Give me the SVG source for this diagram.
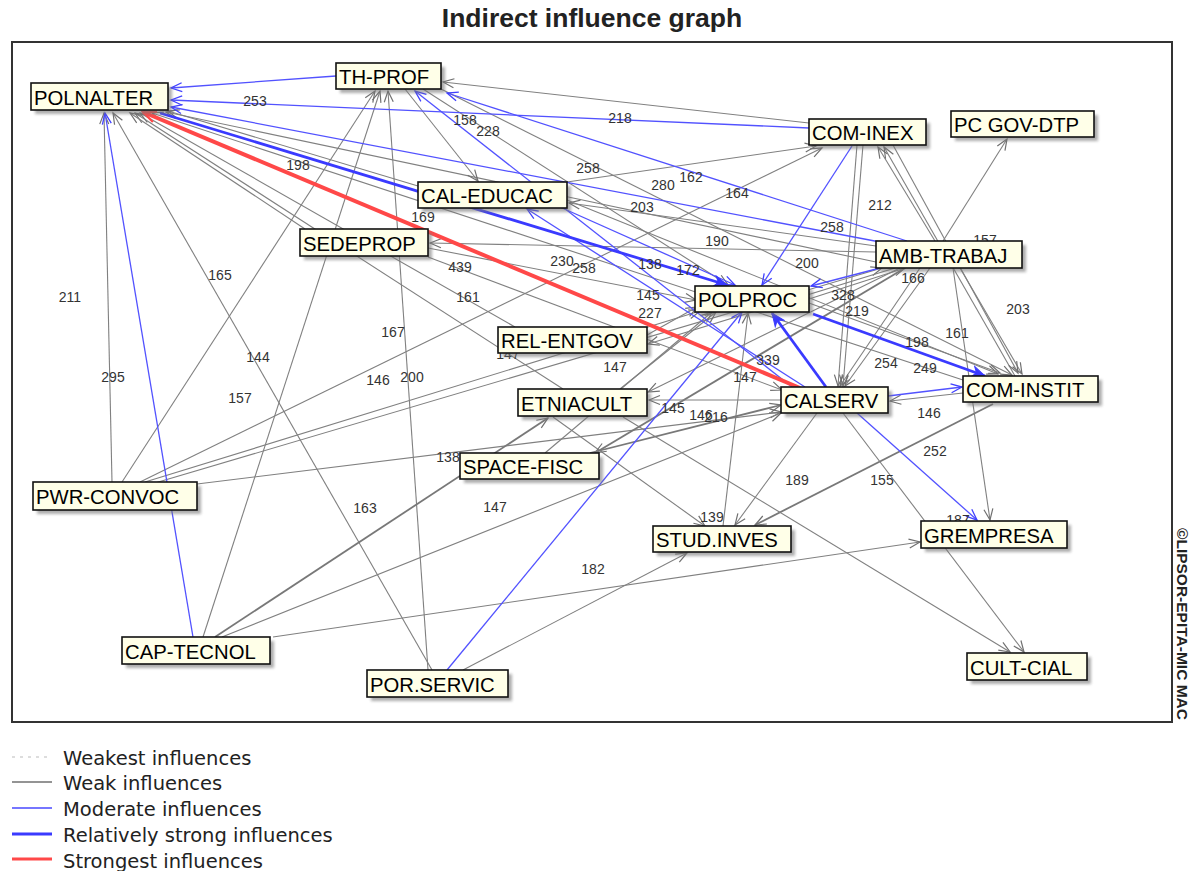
<svg xmlns="http://www.w3.org/2000/svg" width="1194" height="871" viewBox="0 0 1194 871">
<style>
.g{stroke:#808080;stroke-width:1.1;fill:none;marker-end:url(#ag)}
.gd{stroke:#787878;stroke-width:1.8;fill:none;marker-end:url(#ag)}
.b{stroke:#5252ff;stroke-width:1.3;fill:none;marker-end:url(#ab)}
.B{stroke:#3a3aff;stroke-width:2.8;fill:none;marker-end:url(#aB)}
.R{stroke:#ff4848;stroke-width:4;fill:none;marker-end:url(#ar)}
.lbl{font-family:"Liberation Sans",Arial,sans-serif;font-size:14px;fill:#333;text-anchor:middle}
.box{fill:#ffffe8;stroke:#111;stroke-width:1.6}
.sh{fill:#777;opacity:.6;filter:url(#blur)}
.nt{font-family:"Liberation Sans",Arial,sans-serif;font-size:20.3px;fill:#000}
.leg{font-family:"DejaVu Sans",Verdana,sans-serif;font-size:19.5px;fill:#222}
</style>
<defs>
<filter id="blur" x="-10%" y="-30%" width="120%" height="160%"><feGaussianBlur stdDeviation="1.5"/></filter>
<marker id="ag" markerUnits="userSpaceOnUse" markerWidth="14" markerHeight="12" refX="12" refY="6" orient="auto"><path d="M1,1.5 L12,6 L1,10.5" fill="none" stroke="#707070" stroke-width="1.2"/></marker>
<marker id="ab" markerUnits="userSpaceOnUse" markerWidth="14" markerHeight="12" refX="12" refY="6" orient="auto"><path d="M1,1.5 L12,6 L1,10.5" fill="none" stroke="#4040ff" stroke-width="1.3"/></marker>
<marker id="aB" markerUnits="userSpaceOnUse" markerWidth="16" markerHeight="14" refX="14" refY="7" orient="auto"><path d="M1,1.5 L14,7 L1,12.5 L5,7 z" fill="#3a3aff" stroke="#3a3aff" stroke-width="1"/></marker>
<marker id="ar" markerUnits="userSpaceOnUse" markerWidth="16" markerHeight="14" refX="14" refY="7" orient="auto"><path d="M1,1.5 L14,7 L1,12.5" fill="none" stroke="#ff4848" stroke-width="2.2"/></marker>
</defs>
<rect width="1194" height="871" fill="#fff"/>
<text x="592" y="27" text-anchor="middle" font-family="Liberation Sans,Arial,sans-serif" font-size="26.5" font-weight="bold" fill="#222">Indirect influence graph</text>
<rect x="12" y="42" width="1160" height="680" fill="#fff" stroke="#333" stroke-width="2"/>
<text transform="translate(1177,528) rotate(90)" font-family="Liberation Sans,Arial,sans-serif" font-size="15.5" font-weight="bold" fill="#222">©LIPSOR-EPITA-MIC MAC</text>

<g id="connectors">
<line class="g" x1="418" y1="186" x2="168" y2="111"/>
<line class="g" x1="876" y1="262" x2="166" y2="112"/>
<line class="g" x1="963" y1="380" x2="152" y2="113"/>
<line class="g" x1="515" y1="327" x2="140" y2="113"/>
<line class="g" x1="563" y1="389" x2="135" y2="113"/>
<line class="g" x1="305" y1="229" x2="130" y2="113"/>
<line class="g" x1="112" y1="482" x2="104" y2="113"/>
<line class="g" x1="432" y1="670" x2="113" y2="113"/>
<line class="g" x1="809" y1="123" x2="443" y2="82"/>
<line class="g" x1="122" y1="482" x2="375" y2="91"/>
<line class="g" x1="203" y1="637" x2="380" y2="91"/>
<line class="g" x1="428" y1="670" x2="388" y2="91"/>
<line class="g" x1="405" y1="89" x2="478" y2="181"/>
<line class="g" x1="423" y1="89" x2="728" y2="285"/>
<line class="g" x1="441" y1="89" x2="1012" y2="375"/>
<line class="g" x1="567" y1="182" x2="816" y2="146"/>
<line class="g" x1="876" y1="246" x2="569" y2="203"/>
<line class="g" x1="567" y1="200" x2="998" y2="374"/>
<line class="g" x1="876" y1="252" x2="430" y2="243"/>
<line class="g" x1="428" y1="257" x2="782" y2="390"/>
<line class="g" x1="428" y1="248" x2="696" y2="300"/>
<line class="g" x1="140" y1="482" x2="822" y2="148"/>
<line class="g" x1="145" y1="482" x2="700" y2="311"/>
<line class="g" x1="155" y1="483" x2="882" y2="268"/>
<line class="g" x1="197" y1="484" x2="781" y2="412"/>
<line class="gd" x1="215" y1="637" x2="548" y2="418"/>
<line class="g" x1="222" y1="637" x2="781" y2="413"/>
<line class="g" x1="273" y1="637" x2="920" y2="542"/>
<line class="g" x1="463" y1="670" x2="687" y2="553"/>
<line class="g" x1="723" y1="526" x2="748" y2="313"/>
<line class="g" x1="817" y1="413" x2="735" y2="525"/>
<line class="gd" x1="993" y1="404" x2="755" y2="525"/>
<line class="g" x1="553" y1="417" x2="705" y2="526"/>
<line class="g" x1="623" y1="417" x2="1010" y2="652"/>
<line class="g" x1="843" y1="413" x2="1024" y2="652"/>
<line class="g" x1="953" y1="268" x2="990" y2="520"/>
<line class="g" x1="963" y1="393" x2="890" y2="401"/>
<line class="g" x1="920" y1="268" x2="840" y2="386"/>
<line class="g" x1="930" y1="268" x2="845" y2="386"/>
<line class="g" x1="857" y1="145" x2="838" y2="386"/>
<line class="g" x1="863" y1="145" x2="843" y2="386"/>
<line class="g" x1="935" y1="241" x2="878" y2="147"/>
<line class="g" x1="1015" y1="376" x2="884" y2="147"/>
<line class="g" x1="960" y1="268" x2="1022" y2="374"/>
<line class="g" x1="893" y1="145" x2="1018" y2="373"/>
<line class="g" x1="943" y1="241" x2="1007" y2="139"/>
<line class="g" x1="809" y1="299" x2="905" y2="268"/>
<line class="g" x1="809" y1="303" x2="1000" y2="373"/>
<line class="g" x1="647" y1="335" x2="697" y2="307"/>
<line class="g" x1="545" y1="453" x2="712" y2="312"/>
<line class="g" x1="620" y1="389" x2="716" y2="312"/>
<line class="g" x1="895" y1="268" x2="648" y2="344"/>
<line class="g" x1="900" y1="268" x2="648" y2="392"/>
<line class="gd" x1="905" y1="268" x2="595" y2="453"/>
<line class="g" x1="781" y1="400" x2="649" y2="400"/>
<line class="gd" x1="590" y1="453" x2="781" y2="405"/>
<line class="b" x1="336" y1="76" x2="171" y2="88"/>
<line class="b" x1="809" y1="128" x2="171" y2="100"/>
<line class="b" x1="880" y1="242" x2="171" y2="107"/>
<line class="b" x1="193" y1="637" x2="105" y2="113"/>
<line class="b" x1="907" y1="241" x2="447" y2="93"/>
<line class="b" x1="792" y1="387" x2="415" y2="91"/>
<line class="b" x1="805" y1="387" x2="527" y2="209"/>
<line class="b" x1="560" y1="207" x2="735" y2="285"/>
<line class="b" x1="447" y1="670" x2="742" y2="312"/>
<line class="b" x1="857" y1="413" x2="977" y2="520"/>
<line class="b" x1="888" y1="396" x2="962" y2="387"/>
<line class="b" x1="852" y1="146" x2="762" y2="285"/>
<line class="b" x1="880" y1="268" x2="811" y2="286"/>
<line class="B" x1="160" y1="113" x2="727" y2="285"/>
<line class="B" x1="813" y1="314" x2="985" y2="376"/>
<line class="B" x1="826" y1="387" x2="772" y2="313"/>
<line class="R" x1="800" y1="388" x2="143" y2="112"/>
</g>

<g id="edge-labels">
<text class="lbl" x="255" y="106">253</text>
<text class="lbl" x="620" y="123">218</text>
<text class="lbl" x="465" y="125">158</text>
<text class="lbl" x="488" y="136">228</text>
<text class="lbl" x="588" y="173">258</text>
<text class="lbl" x="663" y="190">280</text>
<text class="lbl" x="691" y="182">162</text>
<text class="lbl" x="737" y="198">164</text>
<text class="lbl" x="298" y="170">198</text>
<text class="lbl" x="423" y="222">169</text>
<text class="lbl" x="642" y="212">203</text>
<text class="lbl" x="717" y="246">190</text>
<text class="lbl" x="832" y="232">258</text>
<text class="lbl" x="880" y="210">212</text>
<text class="lbl" x="985" y="245">157</text>
<text class="lbl" x="807" y="268">200</text>
<text class="lbl" x="562" y="266">230</text>
<text class="lbl" x="584" y="273">258</text>
<text class="lbl" x="460" y="272">439</text>
<text class="lbl" x="650" y="269">138</text>
<text class="lbl" x="688" y="275">172</text>
<text class="lbl" x="468" y="302">161</text>
<text class="lbl" x="220" y="280">165</text>
<text class="lbl" x="70" y="302">211</text>
<text class="lbl" x="113" y="382">295</text>
<text class="lbl" x="258" y="362">144</text>
<text class="lbl" x="240" y="403">157</text>
<text class="lbl" x="393" y="337">167</text>
<text class="lbl" x="378" y="385">146</text>
<text class="lbl" x="412" y="382">200</text>
<text class="lbl" x="365" y="513">163</text>
<text class="lbl" x="648" y="300">145</text>
<text class="lbl" x="650" y="318">227</text>
<text class="lbl" x="508" y="359">147</text>
<text class="lbl" x="615" y="372">147</text>
<text class="lbl" x="768" y="365">339</text>
<text class="lbl" x="745" y="382">147</text>
<text class="lbl" x="673" y="413">145</text>
<text class="lbl" x="701" y="420">146</text>
<text class="lbl" x="716" y="422">216</text>
<text class="lbl" x="448" y="462">138</text>
<text class="lbl" x="495" y="512">147</text>
<text class="lbl" x="712" y="522">139</text>
<text class="lbl" x="593" y="574">182</text>
<text class="lbl" x="797" y="485">189</text>
<text class="lbl" x="882" y="485">155</text>
<text class="lbl" x="935" y="456">252</text>
<text class="lbl" x="929" y="418">146</text>
<text class="lbl" x="917" y="347">198</text>
<text class="lbl" x="925" y="373">249</text>
<text class="lbl" x="886" y="368">254</text>
<text class="lbl" x="957" y="338">161</text>
<text class="lbl" x="1018" y="314">203</text>
<text class="lbl" x="843" y="300">328</text>
<text class="lbl" x="857" y="316">219</text>
<text class="lbl" x="913" y="283">166</text>
<text class="lbl" x="958" y="525">187</text>
</g>

<g id="n-POLNALTER"><rect class="sh" x="35" y="87" width="137" height="27"/><rect class="box" x="31" y="83" width="137" height="27"/><text class="nt" x="34" y="105">POLNALTER</text></g>
<g id="n-TH-PROF"><rect class="sh" x="340" y="67" width="105" height="26"/><rect class="box" x="336" y="63" width="105" height="26"/><text class="nt" x="339" y="84">TH-PROF</text></g>
<g id="n-COM-INEX"><rect class="sh" x="813" y="123" width="117" height="26"/><rect class="box" x="809" y="119" width="117" height="26"/><text class="nt" x="812" y="140">COM-INEX</text></g>
<g id="n-PC-GOV-DTP"><rect class="sh" x="955" y="115" width="143" height="26"/><rect class="box" x="951" y="111" width="143" height="26"/><text class="nt" x="954" y="132">PC GOV-DTP</text></g>
<g id="n-CAL-EDUCAC"><rect class="sh" x="422" y="186" width="149" height="26"/><rect class="box" x="418" y="182" width="149" height="26"/><text class="nt" x="421" y="203">CAL-EDUCAC</text></g>
<g id="n-SEDEPROP"><rect class="sh" x="304" y="233" width="128" height="27"/><rect class="box" x="300" y="229" width="128" height="27"/><text class="nt" x="303" y="251">SEDEPROP</text></g>
<g id="n-AMB-TRABAJ"><rect class="sh" x="880" y="245" width="146" height="27"/><rect class="box" x="876" y="241" width="146" height="27"/><text class="nt" x="879" y="263">AMB-TRABAJ</text></g>
<g id="n-POLPROC"><rect class="sh" x="699" y="290" width="114" height="26"/><rect class="box" x="695" y="286" width="114" height="26"/><text class="nt" x="698" y="307">POLPROC</text></g>
<g id="n-REL-ENTGOV"><rect class="sh" x="502" y="331" width="149" height="26"/><rect class="box" x="498" y="327" width="149" height="26"/><text class="nt" x="501" y="348">REL-ENTGOV</text></g>
<g id="n-ETNIACULT"><rect class="sh" x="522" y="393" width="129" height="27"/><rect class="box" x="518" y="389" width="129" height="27"/><text class="nt" x="521" y="411">ETNIACULT</text></g>
<g id="n-CALSERV"><rect class="sh" x="785" y="391" width="107" height="26"/><rect class="box" x="781" y="387" width="107" height="26"/><text class="nt" x="784" y="408">CALSERV</text></g>
<g id="n-COM-INSTIT"><rect class="sh" x="967" y="380" width="135" height="26"/><rect class="box" x="963" y="376" width="135" height="26"/><text class="nt" x="966" y="397">COM-INSTIT</text></g>
<g id="n-SPACE-FISC"><rect class="sh" x="464" y="457" width="139" height="26"/><rect class="box" x="460" y="453" width="139" height="26"/><text class="nt" x="463" y="474">SPACE-FISC</text></g>
<g id="n-PWR-CONVOC"><rect class="sh" x="37" y="486" width="164" height="28"/><rect class="box" x="33" y="482" width="164" height="28"/><text class="nt" x="36" y="504">PWR-CONVOC</text></g>
<g id="n-STUD-INVES"><rect class="sh" x="657" y="530" width="138" height="26"/><rect class="box" x="653" y="526" width="138" height="26"/><text class="nt" x="656" y="547">STUD.INVES</text></g>
<g id="n-GREMPRESA"><rect class="sh" x="925" y="525" width="146" height="27"/><rect class="box" x="921" y="521" width="146" height="27"/><text class="nt" x="924" y="543">GREMPRESA</text></g>
<g id="n-CAP-TECNOL"><rect class="sh" x="126" y="641" width="148" height="27"/><rect class="box" x="122" y="637" width="148" height="27"/><text class="nt" x="125" y="659">CAP-TECNOL</text></g>
<g id="n-POR-SERVIC"><rect class="sh" x="371" y="674" width="141" height="27"/><rect class="box" x="367" y="670" width="141" height="27"/><text class="nt" x="370" y="692">POR.SERVIC</text></g>
<g id="n-CULT-CIAL"><rect class="sh" x="971" y="657" width="120" height="27"/><rect class="box" x="967" y="653" width="120" height="27"/><text class="nt" x="970" y="675">CULT-CIAL</text></g>

<g id="legend">
<line x1="12" y1="757" x2="52" y2="757" stroke="#bbb" stroke-width="1.2" stroke-dasharray="3,5"/>
<line x1="12" y1="782" x2="52" y2="782" stroke="#707070" stroke-width="1.5"/>
<line x1="12" y1="808" x2="52" y2="808" stroke="#4848ff" stroke-width="1.5"/>
<line x1="12" y1="834" x2="52" y2="834" stroke="#3a3aff" stroke-width="3"/>
<line x1="12" y1="859" x2="52" y2="859" stroke="#ff4848" stroke-width="3"/>
<text class="leg" x="63" y="765">Weakest influences</text>
<text class="leg" x="63" y="790">Weak influences</text>
<text class="leg" x="63" y="816">Moderate influences</text>
<text class="leg" x="63" y="842">Relatively strong influences</text>
<text class="leg" x="63" y="868">Strongest influences</text>
</g>
</svg>
